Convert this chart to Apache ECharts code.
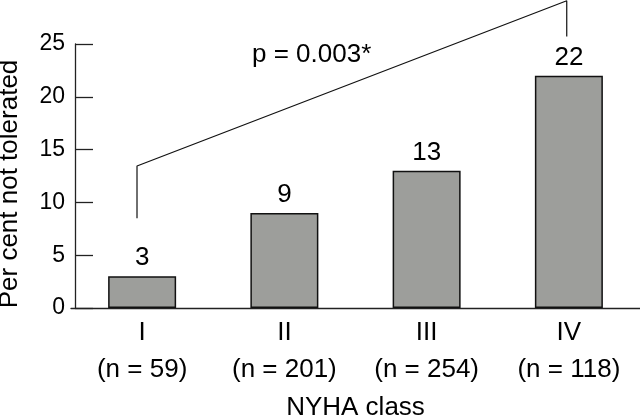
<!DOCTYPE html>
<html>
<head>
<meta charset="utf-8">
<script src="https://cdn.jsdelivr.net/npm/echarts@6/dist/echarts.min.js"></script>
<style>html,body{margin:0;padding:0;background:#fff}#c{width:640px;height:415px}</style>
</head>
<body>
<div id="c"></div>
<script>
// Data
var classes = ['I', 'II', 'III', 'IV'];
var nValues = [59, 201, 254, 118];
var percentNotTolerated = [3, 9, 13, 22];
var yTicks = [0, 5, 10, 15, 20, 25];
// Significance bracket (category position, y value)
var bracketX = [-0.036, -0.036, 2.985, 2.985];
var bracketY = [8.5, 13.45, 29.1, 25.7];
var pText = 'p = 0.003*';

var FONT = 'Liberation Sans';
var categoryLabels = classes.map(function (c, i) { return c + '\n(n = ' + nValues[i] + ')'; });
var bracketData = bracketX.map(function (x, i) { return [x, bracketY[i]]; });

var chart = echarts.init(document.getElementById('c'), null, { renderer: 'canvas' });
chart.setOption({
  animation: false,
  backgroundColor: '#fff',
  textStyle: { fontFamily: FONT },
  title: {
    text: pText,
    left: 252, top: 42, padding: 0,
    textStyle: { fontFamily: FONT, fontSize: 26, fontWeight: 'normal', color: '#000' }
  },
  grid: { left: 71, right: 0, top: 44, bottom: 107, containLabel: false, outerBoundsMode: 'none' },
  xAxis: [{
    type: 'category',
    data: categoryLabels,
    name: 'NYHA class',
    nameLocation: 'middle',
    nameGap: 87,
    nameTextStyle: { fontFamily: FONT, fontSize: 26, color: '#000' },
    axisLine: { onZero: false, lineStyle: { color: '#222', width: 1.3 } },
    axisTick: { show: false },
    axisLabel: { fontFamily: FONT, fontSize: 26, lineHeight: 37, color: '#000', margin: 6, interval: 0 }
  }, {
    type: 'value',
    min: -0.5, max: classes.length - 0.5,
    show: false
  }],
  yAxis: {
    type: 'value',
    min: yTicks[0], max: yTicks[yTicks.length - 1], interval: yTicks[1] - yTicks[0],
    offset: -4,
    name: 'Per cent not tolerated',
    nameLocation: 'middle',
    nameGap: 52,
    nameTextStyle: { fontFamily: FONT, fontSize: 26, color: '#000', padding: [0, 16, 0, 0] },
    axisLine: { show: true, onZero: false, lineStyle: { color: '#222', width: 1.3 } },
    axisTick: { show: true, inside: true, length: 18, lineStyle: { color: '#222', width: 1.3 } },
    splitLine: { show: false },
    axisLabel: { fontFamily: FONT, fontSize: 23, color: '#000', margin: 10 }
  },
  series: [
    {
      type: 'bar',
      data: percentNotTolerated,
      barWidth: 68,
      itemStyle: { color: '#9d9e9b', borderColor: '#111', borderWidth: 1.5 },
      label: { show: true, position: 'top', distance: 5, fontFamily: FONT, fontSize: 26, color: '#000' }
    },
    {
      type: 'line',
      xAxisIndex: 1,
      data: bracketData,
      clip: false,
      symbol: 'none',
      silent: true,
      lineStyle: { color: '#111', width: 1.2 },
      z: 5
    }
  ]
});
</script>
</body>
</html>
